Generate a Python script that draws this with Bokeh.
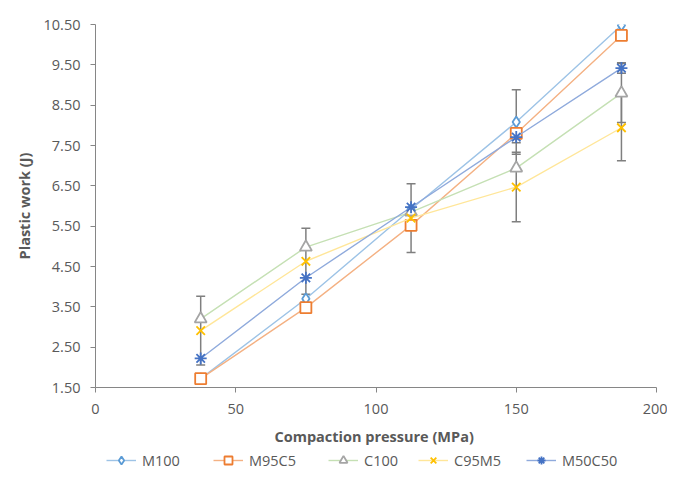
from bokeh.plotting import figure
from bokeh.layouts import column
from bokeh.models import (Range1d, Legend, LegendItem, ColumnDataSource, Whisker,
                          FixedTicker, NumeralTickFormatter, TeeHead)
from bokeh.embed import file_html
from bokeh.resources import INLINE

pressure = [37.5, 75, 112.5, 150, 187.5]
series_names = ["M100", "M95C5", "C100", "C95M5", "M50C50"]
M100 = [1.72, 3.70, 5.92, 8.08, 10.48]
M95C5 = [1.72, 3.48, 5.52, 7.80, 10.23]
C100 = [3.20, 4.98, 5.85, 6.94, 8.80]
C95M5 = [2.91, 4.63, 5.70, 6.47, 7.94]
M50C50 = [2.22, 4.22, 5.97, 7.71, 9.42]

err_M100 = [0, 0, 0, 0.80, 0]
err_M95C5 = [0, 0, 0, 0, 0]
err_C100 = [0, 0, 0, 0, 0.73]
err_C95M5 = [0.85, 0.82, 0.85, 0.86, 0.82]
err_M50C50 = [0, 0, 0, 0.14, 0.13]

y_ticks = [1.5, 2.5, 3.5, 4.5, 5.5, 6.5, 7.5, 8.5, 9.5, 10.5]
x_ticks = [0, 50, 100, 150, 200]

values = [M100, M95C5, C100, C95M5, M50C50]
errors = [err_M100, err_M95C5, err_C100, err_C95M5, err_M50C50]
line_colors = ["#9DC3E6", "#F4B183", "#C5E0B4", "#FFE699", "#8FAADC"]
marker_colors = ["#5B9BD5", "#ED7D31", "#A5A5A5", "#FFC000", "#4472C4"]
markers = ["diamond", "square", "triangle", "x", "asterisk"]
sizes = [11, 11, 12, 12, 12]
legend_x = [11, 118, 233, 323, 431]

FONT = "Open Sans"
TXT = "#595959"
W = 667

p = figure(width=W, height=448, output_backend="svg", toolbar_location=None,
           x_range=Range1d(0, 200), y_range=Range1d(1.5, 10.5),
           min_border_left=95, min_border_right=11, min_border_top=24,
           min_border_bottom=57)
p.outline_line_color = None
p.xgrid.grid_line_color = None
p.ygrid.grid_line_color = None

for ax in (p.xaxis[0], p.yaxis[0]):
    ax.axis_line_color = "#868686"
    ax.axis_line_width = 1
    ax.major_tick_line_color = "#868686"
    ax.major_tick_out = 5
    ax.major_tick_in = 0
    ax.minor_tick_line_color = None
    ax.major_label_text_font = FONT
    ax.major_label_text_font_size = "14.5px"
    ax.major_label_text_color = TXT
    ax.axis_label_text_font = FONT
    ax.axis_label_text_font_size = "14.5px"
    ax.axis_label_text_font_style = "bold"
    ax.axis_label_text_color = TXT

p.xaxis.ticker = FixedTicker(ticks=x_ticks)
p.yaxis.ticker = FixedTicker(ticks=y_ticks)
p.yaxis.formatter = NumeralTickFormatter(format="0.00")
p.xaxis.axis_label = "Compaction  pressure (MPa)"
p.yaxis.axis_label = "Plastic work (J)"
p.xaxis.major_label_standoff = 11
p.yaxis.major_label_standoff = 10
p.xaxis.axis_label_standoff = 10
p.yaxis.axis_label_standoff = 7

# error bars
for vals, errs in zip(values, errors):
    xs, lo, hi = [], [], []
    for x, v, e in zip(pressure, vals, errs):
        if e > 0:
            xs.append(x); lo.append(v - e); hi.append(v + e)
    if xs:
        src = ColumnDataSource(dict(x=xs, lo=lo, hi=hi))
        w = Whisker(source=src, base="x", lower="lo", upper="hi",
                    line_color="#7F7F7F", line_width=1.5,
                    upper_head=TeeHead(size=9, line_color="#7F7F7F", line_width=1.5),
                    lower_head=TeeHead(size=9, line_color="#7F7F7F", line_width=1.5))
        p.add_layout(w)

# legend figure (frame aligned with the main figure's frame)
lf = figure(width=W, height=28, output_backend="svg", toolbar_location=None,
            x_range=Range1d(1000, 1001), y_range=Range1d(1000, 1001),
            min_border_left=95, min_border_right=11, min_border_top=0,
            min_border_bottom=0)
lf.axis.visible = False
lf.grid.visible = False
lf.outline_line_color = None

for name, vals, lc, mc, mk, sz, lx in zip(series_names, values, line_colors,
                                         marker_colors, markers, sizes, legend_x):
    p.line(pressure, vals, line_color=lc, line_width=1.4)
    p.scatter(pressure, vals, marker=mk, size=sz, line_color=mc,
              fill_color="white", line_width=1.8)
    l2 = lf.line(pressure, vals, line_color=lc, line_width=1.4)
    s2 = lf.scatter(pressure, vals, marker=mk, size=sz - 1, line_color=mc,
                    fill_color="white", line_width=1.8)
    lg = Legend(items=[LegendItem(label=name, renderers=[l2, s2])],
                location=(lx, 6), orientation="horizontal",
                label_text_font=FONT, label_text_font_size="14.5px",
                label_text_color=TXT, border_line_color=None,
                background_fill_alpha=0, glyph_width=30, label_standoff=6,
                margin=0, padding=2)
    lf.add_layout(lg, "center")

layout = column(p, lf, spacing=0)
open("out.html", "w").write(file_html(layout, INLINE))
